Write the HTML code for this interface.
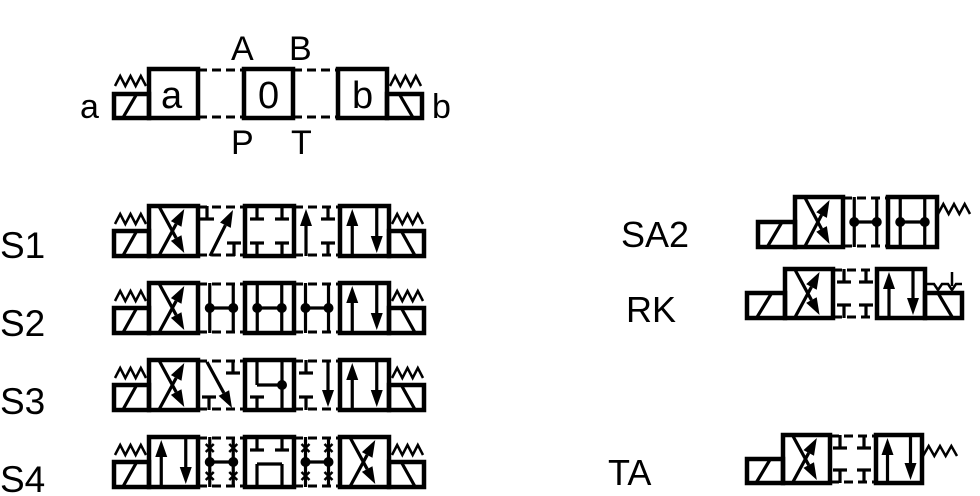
<!DOCTYPE html>
<html><head><meta charset="utf-8">
<style>
html,body{margin:0;padding:0;background:#fff;width:980px;height:496px;overflow:hidden}
svg{display:block}
text{font-family:"Liberation Sans",Arial,sans-serif;fill:#000}
</style></head>
<body>
<svg id="s" width="980" height="496" viewBox="0 0 980 496" xmlns="http://www.w3.org/2000/svg">
<g font-size="34">
<text x="231" y="60">A</text><text x="289" y="60">B</text>
<text x="231" y="154">P</text><text x="291" y="154">T</text>
<text x="80" y="118">a</text><text x="432" y="118">b</text>
</g>
<g font-size="38">
<text x="161" y="108">a</text><text x="258" y="108">0</text><text x="352" y="108">b</text>
</g>
<g font-size="37">
<text x="0" y="258">S1</text><text x="0" y="336">S2</text>
<text x="0" y="414">S3</text><text x="0" y="492">S4</text>
</g>
<g font-size="36">
<text x="621" y="247">SA2</text><text x="626" y="322">RK</text><text x="608" y="485">TA</text>
</g>
<g id="g" stroke="#000" fill="none" stroke-width="3.2"></g>
</svg>
<script>
var G=document.getElementById('g'),NS='http://www.w3.org/2000/svg';
function el(t,a){var e=document.createElementNS(NS,t);for(var k in a)e.setAttribute(k,a[k]);G.appendChild(e);return e;}
function L(x1,y1,x2,y2,w,d){var a={x1:x1,y1:y1,x2:x2,y2:y2};if(w)a['stroke-width']=w;if(d)a['stroke-dasharray']=d;return el('line',a);}
function R(x,y,w,h){el('rect',{x:x,y:y,width:w,height:h,'stroke-width':4.5});}
function dot(x,y){el('circle',{cx:x,cy:y,r:5,fill:'#000',stroke:'none'});}
function A(x1,y1,x2,y2){var dx=x2-x1,dy=y2-y1,l=Math.hypot(dx,dy),ux=dx/l,uy=dy/l,hl=17,hw=6;
 var bx=x2-ux*hl,by=y2-uy*hl;L(x1,y1,bx,by);
 el('polygon',{points:x2+','+y2+' '+(bx-uy*hw)+','+(by+ux*hw)+' '+(bx+uy*hw)+','+(by-ux*hw),fill:'#000',stroke:'none'});}
function Tt(x,y){L(x,y,x,y+13);L(x-7,y+13,x+7,y+13);}
function Tb(x,y,h){L(x,y+h,x,y+h-13);L(x-7,y+h-13,x+7,y+h-13);}
function sol(x,y,w,h,rev){R(x,y,w,h);if(!rev)L(x+w*0.25,y+h,x+w*0.65,y);else L(x+w*0.35,y,x+w*0.75,y+h);}
function spring(x,y,w,n){var p=[],s=w/(2*n);for(var i=0;i<=2*n;i++)p.push((x+i*s)+','+(y+(i%2?0:10)));el('polyline',{points:p.join(' '),'stroke-width':2.5});}
function X(x,y,w,h){R(x,y,w,h);A(x+w*0.2,y,x+w*0.72,y+h-3);A(x+w*0.2,y+h,x+w*0.72,y+3);}
function P(x,y,w,h){R(x,y,w,h);A(x+w*0.25,y+h,x+w*0.25,y+3);A(x+w*0.75,y,x+w*0.75,y+h-3);}
function dash(x1,x2,y,h){L(x1,y+1,x2,y+1,3,'9,5');L(x1,y+h-1,x2,y+h-1,3,'9,5');}
function H(x,y,w,h){var a=x+w*0.25,b=x+w*0.75,m=y+h/2;L(a,y,a,y+h);L(b,y,b,y+h);L(a,m,b,m);dot(a,m);dot(b,m);}
function cross(x,y){L(x-4,y-4,x+4,y+4,2.5);L(x-4,y+4,x+4,y-4,2.5);}
// top symbol
R(149,69,49,49);R(244,69,49,49);R(338,69,49,49);
dash(198,244,69,49);dash(293,338,69,49);
sol(114,94,35,24);spring(115,76,31,3);
sol(387,94,35,24,1);spring(390,76,31,3);
// rows
var rows=[206,283,360,437],h=50;
rows.forEach(function(y,i){
 sol(114,y+25,35,25);spring(115,y+8,31,3);
 sol(389,y+25,35,25,1);spring(392,y+8,31,3);
 dash(198,245,y,h);dash(294,340,y,h);
 if(i<3){X(149,y,49,h);P(340,y,49,h);}else{P(149,y,49,h);X(340,y,49,h);}
 R(245,y,49,h);
 var c1=245+12,c2=245+37;
 if(i==0){Tt(207,y);A(210,y+h,233,y+4);Tb(234,y,h);
  Tt(c1,y);Tt(c2,y);Tb(c1,y,h);Tb(c2,y,h);
  A(306,y+h,306,y+3);Tt(328,y);Tb(328,y,h);}
 if(i==1){H(198,y,47,h);H(245,y,49,h);H(294,y,46,h);}
 if(i==2){Tt(233,y);Tb(209,y,h);A(207,y+2,232,y+h-2);
  L(c1,y,c1,y+h/2);L(c1,y+h/2,c2,y+h/2);L(c2,y,c2,y+h);dot(c2,y+h/2);Tb(c1,y,h);
  Tt(306,y);Tb(306,y,h);A(328,y,328,y+h-3);}
 if(i==3){H(198,y,47,h);H(294,y,46,h);
  [209.75,233.25,305.5,328.5].forEach(function(cx){cross(cx,y+11);cross(cx,y+h-11);});
  Tt(c1,y);Tt(c2,y);L(c1,y+h,c1,y+h/2+2);L(c2,y+h,c2,y+h/2+2);L(c1,y+h/2+2,c2,y+h/2+2);}
});
// SA2
sol(758,222,37,25);X(795,197,48,50);dash(843,888,197,50);H(843,197,45,50);R(888,197,49,50);H(888,197,49,50);spring(938,204,32,3);
// RK
sol(747,293,38,25);X(785,269,48,49);dash(833,877,269,49);Tt(844,269);Tt(866,269);Tb(844,269,49);Tb(866,269,49);P(877,269,48,49);
sol(925,293,37,25,1);el('polyline',{points:'927,284 934,284 938,290 942,284 948,284 952,290 956,284 962,284','stroke-width':2.5});L(952,272,952,286,2.5);
// TA
sol(747,459,36,24);X(783,435,47,48);dash(830,876,435,48);Tt(840,435);Tt(864,435);Tb(840,435,48);Tb(864,435,48);P(876,435,46,48);spring(923,446,34,3);
</script>
</body></html>
